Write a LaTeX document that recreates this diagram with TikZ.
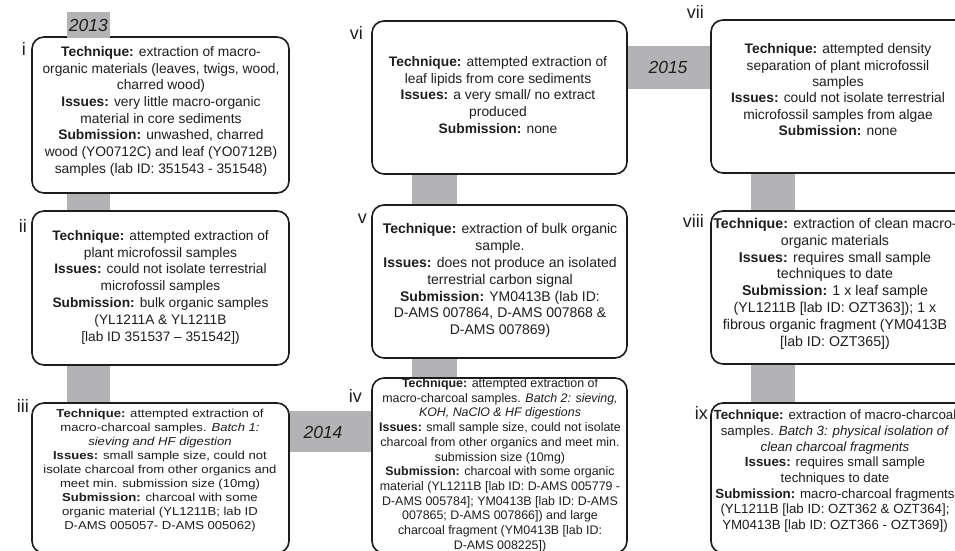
\documentclass[tikz,border=0pt]{standalone}
\usepackage{fontspec}
\setmainfont{Liberation Sans}
\usepackage{graphicx}
\usetikzlibrary{backgrounds}
\definecolor{bargray}{RGB}{179,179,182}
\definecolor{edge}{RGB}{28,28,28}
\definecolor{ink}{RGB}{30,30,30}
\newcommand{\bt}[4]{\scalebox{1}[#3]{\fontsize{#1}{#2}\selectfont\begin{tabular}{@{}c@{}}#4\end{tabular}}}
\tikzset{
  stepbox/.style={draw=edge, line width=1.6pt, rounded corners=12pt, fill=white, inner sep=0pt},
  boxtext/.style={align=center, inner sep=0pt, text=ink},
  numlabel/.style={font=\fontsize{18}{18}\selectfont, anchor=base east, inner sep=0pt, text=ink},
  yearlabel/.style={font=\fontsize{17.5}{17.5}\selectfont\itshape, inner sep=0pt, text=ink},
  vbar/.style={draw=bargray, line cap=butt},
  hbar/.style={draw=bargray, line cap=butt},
}
\begin{document}
\begin{tikzpicture}[x=1pt,y=-1pt]
\useasboundingbox (0,0) rectangle (955,551);
\clip (0,0) rectangle (955,551);
% column coordinates
\coordinate (c2) at (434,0);
\coordinate (c3) at (773,0);
% boxes
\node[stepbox, minimum width=257pt, minimum height=156pt] (i) at (160.5,115) {};
\node[stepbox, minimum width=257pt, minimum height=154pt] (ii) at (160.5,288) {};
\node[stepbox, minimum width=257pt, minimum height=150pt] (iii) at (160.5,478) {};
\node[stepbox, minimum width=255pt, minimum height=153pt] (vi) at (499.5,97.5) {};
\node[stepbox, minimum width=255pt, minimum height=153pt] (v) at (499.5,281.5) {};
\node[stepbox, minimum width=255pt, minimum height=175pt] (iv) at (499.5,465.5) {};
\node[stepbox, minimum width=257pt, minimum height=153pt] (vii) at (839.5,96.5) {};
\node[stepbox, minimum width=257pt, minimum height=153pt] (viii) at (839.5,287.5) {};
\node[stepbox, minimum width=257pt, minimum height=150pt] (ix) at (839.5,478) {};
% year labels
\node[yearlabel, fill=bargray, minimum width=43.3pt, minimum height=26pt] (y2013) at (88.3,25) {2013};
\node[yearlabel] (y2014) at (323,432) {2014};
\node[yearlabel] (y2015) at (668,67) {2015};
% connectors (grey bars) behind the boxes
\begin{pgfonlayer}{background}
\draw[vbar, line width=43.3pt] (y2013.south) -- (y2013 |- iii.center);
\draw[vbar, line width=45pt] (vi.center -| c2) -- (iv.center -| c2);
\draw[vbar, line width=44pt] (vii.center -| c3) -- (ix.center -| c3);
\draw[hbar, line width=41pt] (iii.center |- 0,431.5) -- (iv.center |- 0,431.5);
\draw[hbar, line width=43pt] (vi.center |- 0,67.5) -- (vii.center |- 0,67.5);
\end{pgfonlayer}
% roman numerals
\node[numlabel] (ni) at (26,56) {i};
\node[numlabel] (nii) at (27,232) {ii};
\node[numlabel] (niii) at (29,412) {iii};
\node[numlabel] (niv) at (362,402) {iv};
\node[numlabel] (nv) at (367,223) {v};
\node[numlabel] (nvi) at (363,40) {vi};
\node[numlabel] (nvii) at (704,19) {vii};
\node[numlabel] (nviii) at (704,227) {viii};
\node[numlabel] (nix) at (708,419) {ix};
% box texts
\node[boxtext] (ti) at (161,111.5) {\bt{13.8}{16.7}{1}{%
\textbf{Technique:} extraction of macro-\\
organic materials (leaves, twigs, wood,\\
charred wood)\\
\textbf{Issues:} very little macro-organic\\
material in core sediments\\
\textbf{Submission:} unwashed, charred\\
wood (YO0712C) and leaf (YO0712B)\\
samples (lab ID: 351543 - 351548)}};
\node[boxtext] (tii) at (160.5,287.5) {\bt{13.7}{16.9}{1}{%
\textbf{Technique:} attempted extraction of\\
plant microfossil samples\\
\textbf{Issues:} could not isolate terrestrial\\
microfossil samples\\
\textbf{Submission:} bulk organic samples\\
(YL1211A \& YL1211B\\
{[}lab ID 351537 -- 351542])}};
\node[boxtext] (tiii) at (160,471) {\bt{13.1}{15.9}{0.88}{%
\textbf{Technique:} attempted extraction of\\
macro-charcoal samples. \textit{Batch 1:}\\
\textit{sieving and HF digestion}\\
\textbf{Issues:} small sample size, could not\\
isolate charcoal from other organics and\\
meet min. submission size (10mg)\\
\textbf{Submission:} charcoal with some\\
organic material (YL1211B; lab ID\\
D-AMS 005057- D-AMS 005062)}};
\node[boxtext] (tiv) at (500,465.5) {\bt{12.4}{14.7}{1}{%
\textbf{Technique:} attempted extraction of\\
macro-charcoal samples. \textit{Batch 2: sieving,}\\
\textit{KOH, NaClO \& HF digestions}\\
\textbf{Issues:} small sample size, could not isolate\\
charcoal from other organics and meet min.\\
submission size (10mg)\\
\textbf{Submission:} charcoal with some organic\\
material (YL1211B [lab ID: D-AMS 005779 -\\
D-AMS 005784]; YM0413B [lab ID: D-AMS\\
007865; D-AMS 007866]) and large\\
charcoal fragment (YM0413B [lab ID:\\
D-AMS 008225])}};
\node[boxtext] (tv) at (500,281) {\bt{14}{16.8}{1}{%
\textbf{Technique:} extraction of bulk organic\\
sample.\\
\textbf{Issues:} does not produce an isolated\\
terrestrial carbon signal\\
\textbf{Submission:} YM0413B (lab ID:\\
D-AMS 007864, D-AMS 007868 \&\\
D-AMS 007869)}};
\node[boxtext] (tvi) at (498,96.5) {\bt{13.8}{16.7}{1}{%
\textbf{Technique:} attempted extraction of\\
leaf lipids from core sediments\\
\textbf{Issues:} a very small/ no extract\\
produced\\
\textbf{Submission:} none}};
\node[boxtext] (tvii) at (838,91.5) {\bt{13.8}{16.4}{1}{%
\textbf{Technique:} attempted density\\
separation of plant microfossil\\
samples\\
\textbf{Issues:} could not isolate terrestrial\\
microfossil samples from algae\\
\textbf{Submission:} none}};
\node[boxtext] (tviii) at (835,284) {\bt{14.2}{16.9}{1}{%
\textbf{Technique:} extraction of clean macro-\\
organic materials\\
\textbf{Issues:} requires small sample\\
techniques to date\\
\textbf{Submission:} 1 x leaf sample\\
(YL1211B [lab ID: OZT363]); 1 x\\
fibrous organic fragment (YM0413B\\
{[}lab ID: OZT365])}};
\node[boxtext] (tix) at (835,471.5) {\bt{13.3}{15.7}{1}{%
\textbf{Technique:} extraction of macro-charcoal\\
samples. \textit{Batch 3: physical isolation of}\\
\textit{clean charcoal fragments}\\
\textbf{Issues:} requires small sample\\
techniques to date\\
\textbf{Submission:} macro-charcoal fragments\\
(YL1211B [lab ID: OZT362 \& OZT364];\\
YM0413B [lab ID: OZT366 - OZT369])}};
\end{tikzpicture}
\end{document}
